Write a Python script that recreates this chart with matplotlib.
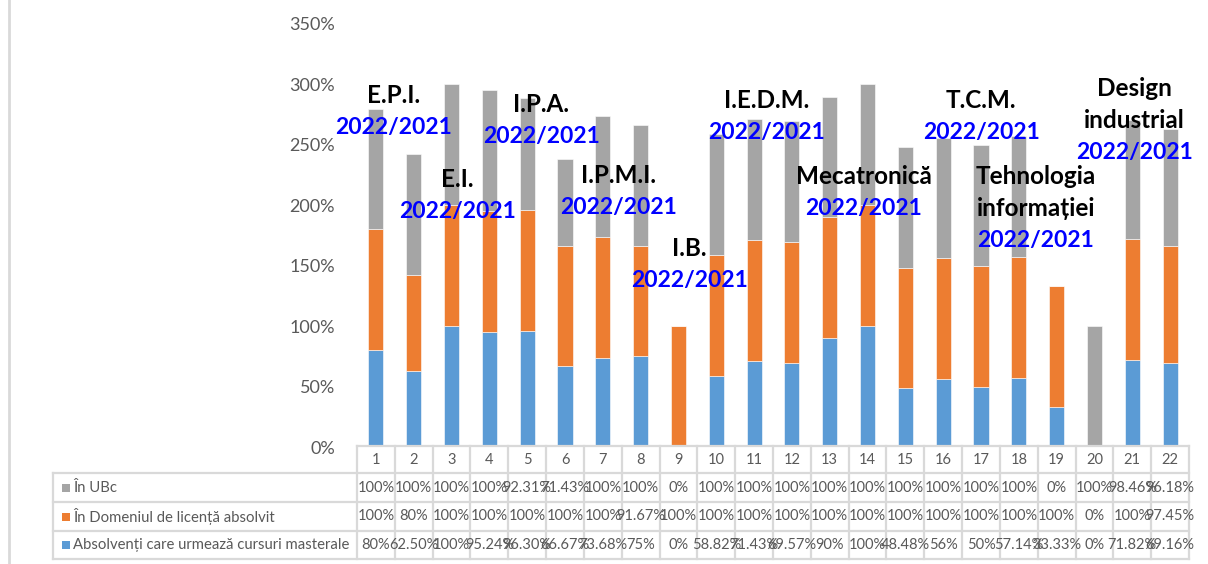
import numpy as np
import matplotlib
matplotlib.use("Agg")
import matplotlib.pyplot as plt
from matplotlib.transforms import blended_transform_factory
from matplotlib.lines import Line2D
from matplotlib.patches import Rectangle

plt.rcParams['font.family'] = ['Lato', 'DejaVu Sans']

# data
columns = list(range(1, 23))
in_ubc = [100, 100, 100, 100, 92.31, 71.43, 100, 100, 0, 100, 100,
          100, 100, 100, 100, 100, 100, 100, 0, 100, 98.46, 96.18]
in_domeniu = [100, 80, 100, 100, 100, 100, 100, 91.67, 100, 100, 100,
              100, 100, 100, 100, 100, 100, 100, 100, 0, 100, 97.45]
masterat = [80, 62.5, 100, 95.24, 96.30, 66.67, 73.68, 75, 0, 58.82, 71.43,
            69.57, 90, 100, 48.48, 56, 50, 57.14, 33.33, 0, 71.82, 69.16]

series_names = ["În UBc", "În Domeniul de licență absolvit",
                "Absolvenți care urmează cursuri masterale"]
series_colors = ["#A5A5A5", "#ED7D31", "#5B9BD5"]

programs = ["E.P.I.", "E.I.", "I.P.A.", "I.P.M.I.", "I.B.", "I.E.D.M.",
            "Mecatronică", "T.C.M.", "Tehnologia\ninformației", "Design\nindustrial"]
year_label = "2022/2021"
# label anchor (x in bar units, y of the year line in %)
prog_x = [1.46, 3.15, 5.37, 7.42, 9.28, 11.34, 13.9, 17.0, 18.45, 21.05]
prog_y = [264, 195, 257, 198, 138, 260, 197, 260, 171, 244]

TEXT_GREY = "#595959"
GRID = "#D9D9D9"
W, H = 1208, 564

fig = plt.figure(figsize=(W / 100, H / 100), dpi=100)
ax = fig.add_axes([357 / W, 1 - 447 / H, (1189 - 357) / W, (447 - 24) / H])

x = np.array(columns)
m = np.array(masterat)
d = np.array(in_domeniu)
u = np.array(in_ubc)
ax.bar(x, m, 0.4, color=series_colors[2], edgecolor="white", linewidth=0.4)
ax.bar(x, d, 0.4, bottom=m, color=series_colors[1], edgecolor="white", linewidth=0.4)
ax.bar(x, u, 0.4, bottom=m + d, color=series_colors[0], edgecolor="white", linewidth=0.4)

ax.set_xlim(0.5, 22.5)
ax.set_ylim(0, 350)
ax.set_yticks(range(0, 351, 50))
ax.set_yticklabels([f"{v}%" for v in range(0, 351, 50)], color=TEXT_GREY, fontsize=13)
ax.tick_params(axis="y", length=0, pad=16)
ax.set_xticks([])
for s in ax.spines.values():
    s.set_visible(False)

# program labels
for name, px, py in zip(programs, prog_x, prog_y):
    lines = name.split("\n")
    ax.text(px, py, year_label, ha="center", va="center", color="#0000FF",
            fontsize=16.5, fontweight="bold")
    for k, ln in enumerate(reversed(lines)):
        ax.text(px, py + 26.5 * (k + 1), ln, ha="center", va="center", color="black",
                fontsize=17.5, fontweight="bold")

# data table under the chart
tr = blended_transform_factory(ax.transData, fig.transFigure)
fy = lambda p: 1 - p / H
fx = lambda p: p / W
row_edges = [446, 473, 502, 531, 559]

def line(xs, ys, transform):
    fig.add_artist(Line2D(xs, ys, transform=transform, color=GRID, lw=1.6))

# vertical lines of the columns
for k in range(23):
    line([k + 0.5, k + 0.5], [fy(446), fy(559)], tr)
line([fx(53), fx(53)], [fy(473), fy(559)], fig.transFigure)
line([0.5, 22.5], [fy(446), fy(446)], tr)
for r in row_edges[1:]:
    line([fx(53), fx(1189)], [fy(r), fy(r)], fig.transFigure)

def fmt(v):
    return f"{int(v)}%" if float(v).is_integer() else f"{v:.2f}%"

for c in columns:
    fig.text(c, fy(460), str(c), transform=tr, ha="center", va="center",
             color=TEXT_GREY, fontsize=10.5)

rows = [in_ubc, in_domeniu, masterat]
for i, (vals, name, col) in enumerate(zip(rows, series_names, series_colors)):
    yc = fy((row_edges[i + 1] + row_edges[i + 2]) / 2)
    fig.add_artist(Rectangle((fx(62), yc - 4 / H), 8 / W, 8 / H,
                             transform=fig.transFigure, color=col, lw=0))
    fig.text(fx(73), yc, name, ha="left", va="center", color=TEXT_GREY, fontsize=10.7)
    for c, v in zip(columns, vals):
        fig.text(c, yc, fmt(v), transform=tr, ha="center", va="center",
                 color=TEXT_GREY, fontsize=10.5)

# left frame edge
fig.add_artist(Line2D([fx(9), fx(9)], [0, 1], transform=fig.transFigure,
                      color=GRID, lw=2))

fig.savefig("out.png", dpi=100)
